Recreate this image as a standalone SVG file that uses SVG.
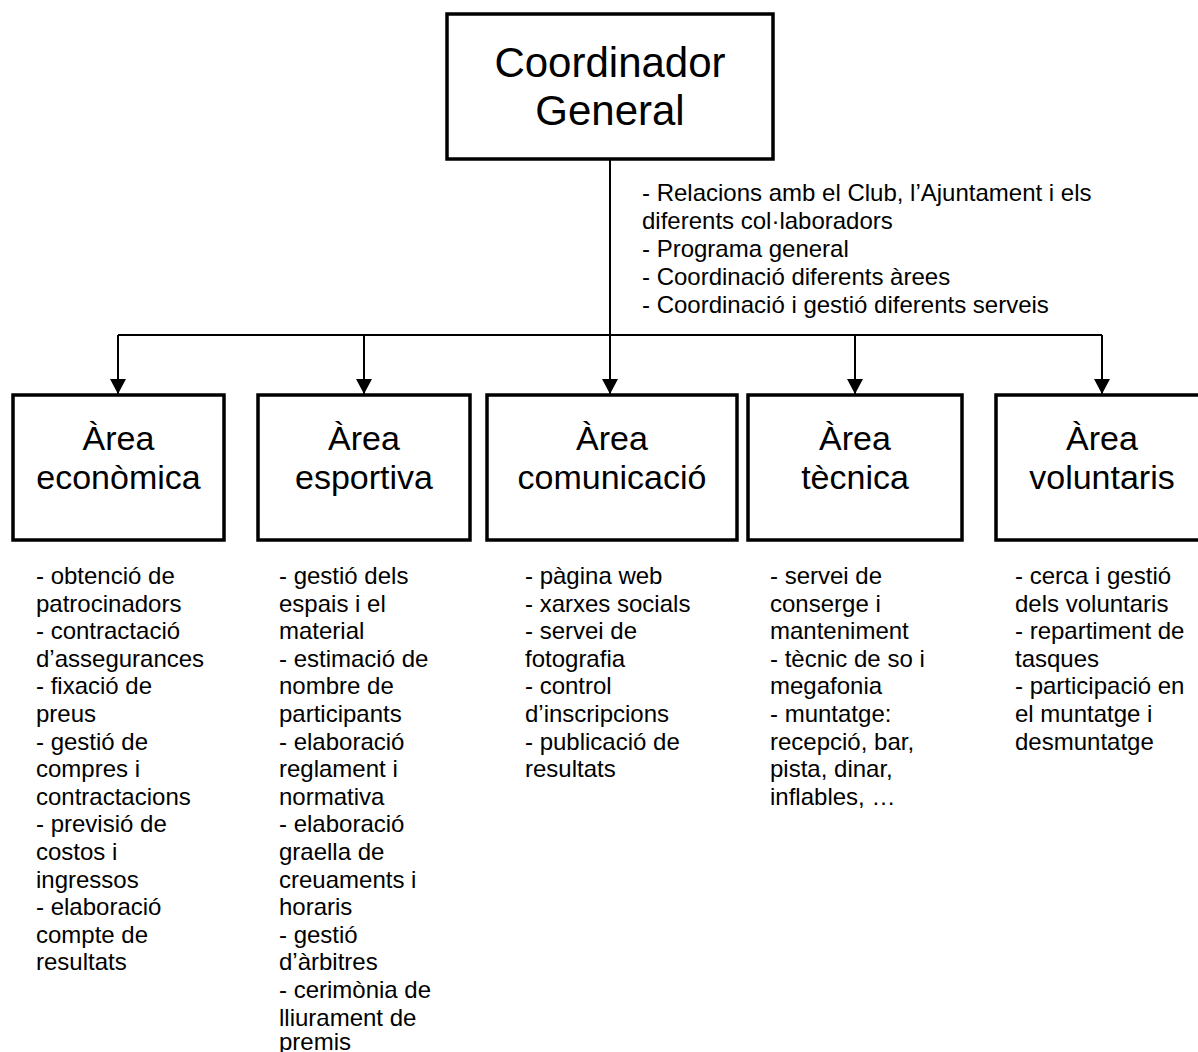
<svg xmlns="http://www.w3.org/2000/svg" width="1198" height="1052" viewBox="0 0 1198 1052">
<defs>
<style>
.box{fill:#fff;stroke:#000;stroke-width:3.5}
.t{font-family:"Liberation Sans",Arial,sans-serif;fill:#000}
.big{font-size:42px;text-anchor:middle}
.mid{font-size:34px;text-anchor:middle}
.sm{font-size:24px}
.ln{stroke:#000;stroke-width:2;fill:none}
</style>
<marker id="ah" markerUnits="userSpaceOnUse" markerWidth="16" markerHeight="16" refX="15" refY="8" orient="auto">
<path d="M0,0 L15,8 L0,16 z" fill="#000"/>
</marker>
</defs>
<rect width="1198" height="1052" fill="#fff"/>
<g id="connectors">
<line class="ln" x1="610" y1="159" x2="610" y2="394" marker-end="url(#ah)"/>
<line class="ln" x1="118" y1="335" x2="1102" y2="335"/>
<line class="ln" x1="118" y1="335" x2="118" y2="394" marker-end="url(#ah)"/>
<line class="ln" x1="364" y1="335" x2="364" y2="394" marker-end="url(#ah)"/>
<line class="ln" x1="855" y1="335" x2="855" y2="394" marker-end="url(#ah)"/>
<line class="ln" x1="1102" y1="335" x2="1102" y2="394" marker-end="url(#ah)"/>
</g>
<g id="coord">
<rect class="box" x="447" y="14" width="326" height="145"/>
<text class="t big" x="610" y="77">Coordinador</text>
<text class="t big" x="610" y="125">General</text>
</g>
<g id="coord-notes">
<text class="t sm" x="642">
<tspan x="642" y="201">- Relacions amb el Club, l’Ajuntament i els</tspan>
<tspan x="642" y="229">diferents col·laboradors</tspan>
<tspan x="642" y="257">- Programa general</tspan>
<tspan x="642" y="285">- Coordinació diferents àrees</tspan>
<tspan x="642" y="313">- Coordinació i gestió diferents serveis</tspan>
</text>
</g>
<g id="economica">
<rect class="box" x="13" y="395" width="211" height="145"/>
<text class="t mid" x="118.5" y="450">Àrea</text>
<text class="t mid" x="118.5" y="489">econòmica</text>
</g>
<g id="esportiva">
<rect class="box" x="258" y="395" width="212" height="145"/>
<text class="t mid" x="364" y="450">Àrea</text>
<text class="t mid" x="364" y="489">esportiva</text>
</g>
<g id="comunicacio">
<rect class="box" x="487" y="395" width="250" height="145"/>
<text class="t mid" x="612" y="450">Àrea</text>
<text class="t mid" x="612" y="489">comunicació</text>
</g>
<g id="tecnica">
<rect class="box" x="748" y="395" width="214" height="145"/>
<text class="t mid" x="855" y="450">Àrea</text>
<text class="t mid" x="855" y="489">tècnica</text>
</g>
<g id="voluntaris">
<rect class="box" x="996" y="395" width="212" height="145"/>
<text class="t mid" x="1102" y="450">Àrea</text>
<text class="t mid" x="1102" y="489">voluntaris</text>
</g>
<g id="economica-notes">
<text class="t sm">
<tspan x="36" y="584">- obtenció de</tspan>
<tspan x="36" y="611.6">patrocinadors</tspan>
<tspan x="36" y="639.2">- contractació</tspan>
<tspan x="36" y="666.8">d’assegurances</tspan>
<tspan x="36" y="694.4">- fixació de</tspan>
<tspan x="36" y="722">preus</tspan>
<tspan x="36" y="749.6">- gestió de</tspan>
<tspan x="36" y="777.2">compres i</tspan>
<tspan x="36" y="804.8">contractacions</tspan>
<tspan x="36" y="832.4">- previsió de</tspan>
<tspan x="36" y="860">costos i</tspan>
<tspan x="36" y="887.6">ingressos</tspan>
<tspan x="36" y="915.2">- elaboració</tspan>
<tspan x="36" y="942.8">compte de</tspan>
<tspan x="36" y="970.4">resultats</tspan>
</text>
</g>
<g id="esportiva-notes">
<text class="t sm">
<tspan x="279" y="584">- gestió dels</tspan>
<tspan x="279" y="611.6">espais i el</tspan>
<tspan x="279" y="639.2">material</tspan>
<tspan x="279" y="666.8">- estimació de</tspan>
<tspan x="279" y="694.4">nombre de</tspan>
<tspan x="279" y="722">participants</tspan>
<tspan x="279" y="749.6">- elaboració</tspan>
<tspan x="279" y="777.2">reglament i</tspan>
<tspan x="279" y="804.8">normativa</tspan>
<tspan x="279" y="832.4">- elaboració</tspan>
<tspan x="279" y="860">graella de</tspan>
<tspan x="279" y="887.6">creuaments i</tspan>
<tspan x="279" y="915.2">horaris</tspan>
<tspan x="279" y="942.8">- gestió</tspan>
<tspan x="279" y="970.4">d’àrbitres</tspan>
<tspan x="279" y="998">- cerimònia de</tspan>
<tspan x="279" y="1025.6">lliurament de</tspan>
<tspan x="279" y="1050">premis</tspan>
</text>
</g>
<g id="comunicacio-notes">
<text class="t sm">
<tspan x="525" y="584">- pàgina web</tspan>
<tspan x="525" y="611.6">- xarxes socials</tspan>
<tspan x="525" y="639.2">- servei de</tspan>
<tspan x="525" y="666.8">fotografia</tspan>
<tspan x="525" y="694.4">- control</tspan>
<tspan x="525" y="722">d’inscripcions</tspan>
<tspan x="525" y="749.6">- publicació de</tspan>
<tspan x="525" y="777.2">resultats</tspan>
</text>
</g>
<g id="tecnica-notes">
<text class="t sm">
<tspan x="770" y="584">- servei de</tspan>
<tspan x="770" y="611.6">conserge i</tspan>
<tspan x="770" y="639.2">manteniment</tspan>
<tspan x="770" y="666.8">- tècnic de so i</tspan>
<tspan x="770" y="694.4">megafonia</tspan>
<tspan x="770" y="722">- muntatge:</tspan>
<tspan x="770" y="749.6">recepció, bar,</tspan>
<tspan x="770" y="777.2">pista, dinar,</tspan>
<tspan x="770" y="804.8">inflables, …</tspan>
</text>
</g>
<g id="voluntaris-notes">
<text class="t sm">
<tspan x="1015" y="584">- cerca i gestió</tspan>
<tspan x="1015" y="611.6">dels voluntaris</tspan>
<tspan x="1015" y="639.2">- repartiment de</tspan>
<tspan x="1015" y="666.8">tasques</tspan>
<tspan x="1015" y="694.4">- participació en</tspan>
<tspan x="1015" y="722">el muntatge i</tspan>
<tspan x="1015" y="749.6">desmuntatge</tspan>
</text>
</g>
</svg>
